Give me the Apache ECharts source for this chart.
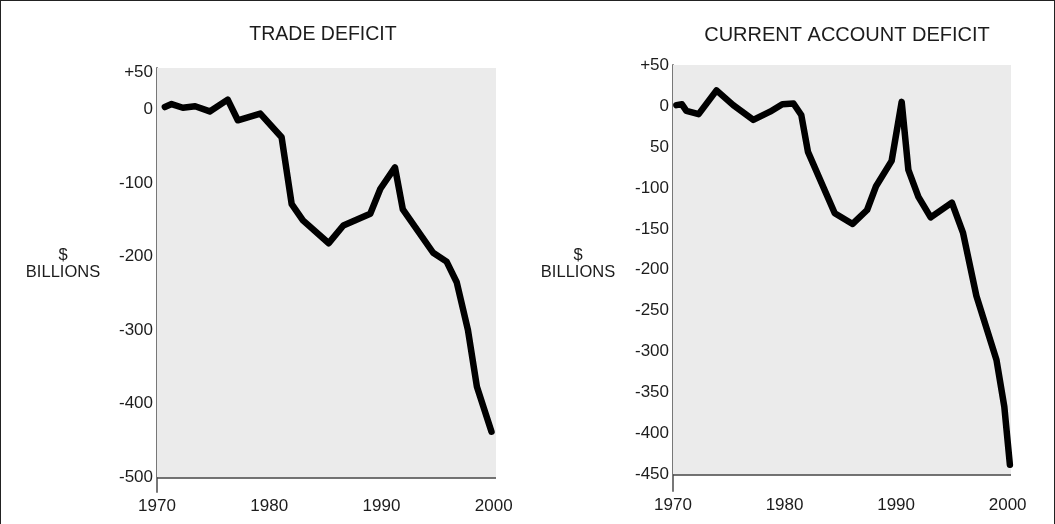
<!DOCTYPE html>
<html>
<head>
<meta charset="utf-8">
<script src="https://cdn.jsdelivr.net/npm/echarts@6/dist/echarts.min.js"></script>
<style>
  html, body { margin: 0; padding: 0; background: #fff; }
  #frame { position: relative; width: 1055px; height: 524px; box-sizing: border-box;
           border-left: 1px solid #222; border-top: 1px solid #222; border-right: 1px solid #222; }
  #chart { position: absolute; left: -1px; top: -1px; width: 1055px; height: 524px; }
</style>
</head>
<body>
<div id="frame"><div id="chart"></div></div>
<script>
// Trade balance, $ billions
const tradeYears  = [1970.7, 1971.3, 1972.3, 1973.4, 1974.7, 1976.3, 1977.2, 1979.2, 1981.1, 1982.0,
                     1983.0, 1985.3, 1986.6, 1989.0, 1989.9, 1991.2, 1991.9, 1994.6, 1995.8, 1996.7,
                     1997.7, 1998.5, 1999.8];
const tradeValues = [3, 7, 2, 4, -3, 13, -15, -6, -38, -129,
                     -151, -182, -158, -142, -108, -79, -136, -195, -207, -235,
                     -300, -377, -438];

// Current account balance, $ billions
const currentYears  = [1970.3, 1970.8, 1971.2, 1972.3, 1973.9, 1975.4, 1977.2, 1978.7, 1979.8, 1980.8,
                       1981.5, 1982.1, 1984.5, 1986.1, 1987.4, 1988.2, 1989.6, 1990.5, 1991.1, 1992.0,
                       1993.1, 1995.0, 1996.0, 1997.2, 1999.0, 1999.7, 2000.2];
const currentValues = [1, 2, -6, -10, 19, 1, -17, -7, 2, 3,
                       -11, -56, -131, -144, -127, -98, -67, 5, -78, -111,
                       -136, -118, -155, -232, -310, -367, -438];

// Axis tick labels
const yearTicks = [1970, 1980, 1990, 2000];
const tradeTickValues = [50, 0, -100, -200, -300, -400, -500];
const tradeTickLabels = ['+50', '0', '-100', '-200', '-300', '-400', '-500'];
const currentTickValues = [50, 0, -50, -100, -150, -200, -250, -300, -350, -400, -450];
const currentTickLabels = ['+50', '0', '50', '-100', '-150', '-200', '-250', '-300', '-350', '-400', '-450'];

const FONT = '"Liberation Sans", Arial, sans-serif';
const TEXT = '#1c1c1c';

function pairs(xs, ys) { return xs.map((x, i) => [x, ys[i]]); }

function labelFrom(values, labels) {
  return function (v) {
    const i = values.findIndex(t => Math.abs(t - v) < 1e-6);
    return i >= 0 ? labels[i] : '';
  };
}

function xAxisFor(gridIndex, max) {
  return {
    type: 'value', gridIndex, min: 1970, max, interval: 10,
    axisLine: { show: false }, axisTick: { show: false }, splitLine: { show: false },
    axisLabel: {
      margin: 6, color: TEXT, fontFamily: FONT, fontSize: 17,
      showMaxLabel: false,
      formatter: v => yearTicks.some(t => Math.abs(t - v) < 1e-6) ? String(Math.round(v)) : ''
    }
  };
}

function yAxisFor(gridIndex, min, max, values, labels) {
  return {
    type: 'value', gridIndex, min, max, interval: 10,
    axisLine: { show: true, lineStyle: { color: '#777', width: 2 } },
    axisTick: { show: false }, splitLine: { show: false },
    axisLabel: {
      margin: 4, color: TEXT, fontFamily: FONT, fontSize: 17,
      showMinLabel: true, showMaxLabel: true,
      formatter: labelFrom(values, labels)
    }
  };
}

// Black trace over a grey panel that stops at the baseline rule
function lineSeries(idx, data, xMin, xMax, baseline, top) {
  return {
    type: 'line', xAxisIndex: idx, yAxisIndex: idx, data,
    symbol: 'none', silent: true, z: 5,
    lineStyle: { color: '#000', width: 6.5, join: 'round', cap: 'round' },
    markArea: {
      silent: true,
      itemStyle: { color: '#ebebeb' },
      data: [[{ xAxis: xMin, yAxis: baseline }, { xAxis: xMax, yAxis: top }]]
    },
    markLine: {
      silent: true, symbol: 'none', label: { show: false },
      lineStyle: { color: '#444', width: 1.5, type: 'solid' },
      data: [{ yAxis: baseline }]
    }
  };
}

const chart = echarts.init(document.getElementById('chart'), null, { renderer: 'canvas' });
chart.setOption({
  animation: false,
  backgroundColor: 'transparent',
  title: [
    { text: 'TRADE DEFICIT', left: 318, top: 20, textAlign: 'center',
      textStyle: { fontFamily: FONT, fontSize: 19.5, fontWeight: 'normal', color: TEXT } },
    { text: 'CURRENT ACCOUNT DEFICIT', left: 842, top: 20, textAlign: 'center',
      textStyle: { fontFamily: FONT, fontSize: 20, fontWeight: 'normal', color: TEXT } },
    { text: '$\nBILLIONS', left: 58, top: 242, textAlign: 'center',
      textStyle: { fontFamily: FONT, fontSize: 16.5, fontWeight: 'normal', color: TEXT, lineHeight: 17, align: 'center' } },
    { text: '$\nBILLIONS', left: 573, top: 242, textAlign: 'center',
      textStyle: { fontFamily: FONT, fontSize: 16.5, fontWeight: 'normal', color: TEXT, lineHeight: 17, align: 'center' } }
  ],
  grid: [
    { left: 157, top: 68, width: 339, height: 424 },
    { left: 673, top: 65, width: 338, height: 426 }
  ],
  xAxis: [ xAxisFor(0, 2000.2), xAxisFor(1, 2000.3) ],
  yAxis: [
    yAxisFor(0, -520, 56, tradeTickValues, tradeTickLabels),
    yAxisFor(1, -470, 50, currentTickValues, currentTickLabels)
  ],
  series: [
    lineSeries(0, pairs(tradeYears, tradeValues), 1970, 2000.2, -500, 56),
    lineSeries(1, pairs(currentYears, currentValues), 1970, 2000.3, -450, 50)
  ]
});
</script>
</body>
</html>
